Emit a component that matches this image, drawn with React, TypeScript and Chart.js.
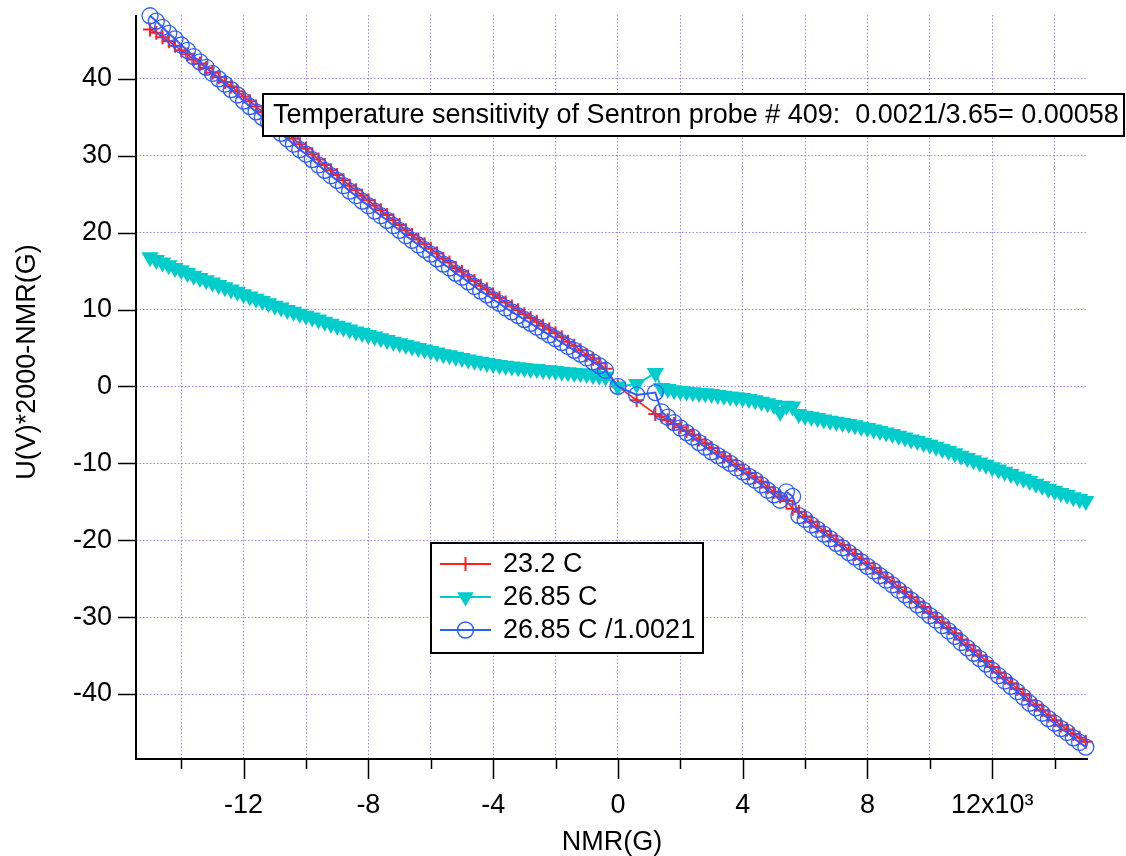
import React, { useEffect, useRef } from 'react';
import { Chart, registerables } from 'chart.js';

Chart.register(...registerables);

// NMR field values (G)
const nmr = [
  -15000, -14800, -14600, -14400, -14200, -14000, -13800, -13600, -13400, -13200,
  -13000, -12800, -12600, -12400, -12200, -12000, -11800, -11600, -11400, -11200,
  -11000, -10800, -10600, -10400, -10200, -10000, -9800, -9600, -9400, -9200,
  -9000, -8800, -8600, -8400, -8200, -8000, -7800, -7600, -7400, -7200,
  -7000, -6800, -6600, -6400, -6200, -6000, -5800, -5600, -5400, -5200,
  -5000, -4800, -4600, -4400, -4200, -4000, -3800, -3600, -3400, -3200,
  -3000, -2800, -2600, -2400, -2200, -2000, -1800, -1600, -1400, -1200,
  -1000, -800, -600, -400,
  0, 600, 1200,
  1400, 1600, 1800, 2000, 2200, 2400, 2600, 2800, 3000, 3200,
  3400, 3600, 3800, 4000, 4200, 4400, 4600, 4800, 5000, 5200,
  5400, 5600, 5800, 6000, 6200, 6400, 6600, 6800, 7000, 7200,
  7400, 7600, 7800, 8000, 8200, 8400, 8600, 8800, 9000, 9200,
  9400, 9600, 9800, 10000, 10200, 10400, 10600, 10800, 11000, 11200,
  11400, 11600, 11800, 12000, 12200, 12400, 12600, 12800, 13000, 13200,
  13400, 13600, 13800, 14000, 14200, 14400, 14600, 14800, 15000,
];

// 23.2 C
const t232 = [
  46.4, 46.0, 45.4, 44.9, 44.3, 43.7, 43.2, 42.5, 42.0, 41.4,
  40.8, 40.2, 39.6, 39.0, 38.4, 37.7, 37.1, 36.4, 35.7, 35.0,
  34.3, 33.6, 32.9, 32.2, 31.5, 30.9, 30.2, 29.5, 28.8, 28.1,
  27.5, 26.8, 26.1, 25.5, 24.8, 24.2, 23.5, 22.9, 22.3, 21.6,
  21.0, 20.3, 19.7, 19.1, 18.5, 17.9, 17.3, 16.6, 16.1, 15.4,
  14.9, 14.3, 13.7, 13.1, 12.6, 12.0, 11.5, 10.9, 10.4, 9.9,
  9.4, 8.9, 8.4, 7.9, 7.4, 6.9, 6.4, 5.8, 5.3, 4.7,
  4.1, 3.6, 3.0, 2.3,
  0, -1.8, -3.6,
  -3.9, -4.4, -4.9, -5.3, -5.8, -6.3, -6.9, -7.4, -8.0, -8.6,
  -9.1, -9.6, -10.2, -10.7, -11.3, -11.8, -12.4, -13.1, -13.7, -14.3,
  -14.9, -15.9, -16.3, -16.9, -17.6, -18.2, -18.8, -19.4, -20.0, -20.6,
  -21.2, -21.8, -22.4, -23.0, -23.6, -24.2, -24.8, -25.4, -26.1, -26.7,
  -27.4, -28.0, -28.7, -29.4, -30.0, -30.7, -31.4, -32.1, -32.9, -33.6,
  -34.3, -35.0, -35.7, -36.5, -37.2, -37.9, -38.6, -39.3, -40.0, -40.8,
  -41.4, -42.1, -42.8, -43.4, -44.1, -44.6, -45.2, -45.7, -46.2,
];

// 26.85 C
const t2685 = [
  16.8, 16.45, 16.1, 15.75, 15.4, 15.1, 14.75, 14.4, 14.1, 13.8,
  13.5, 13.2, 12.9, 12.6, 12.3, 12.0, 11.7, 11.4, 11.1, 10.8,
  10.5, 10.25, 9.95, 9.7, 9.45, 9.2, 8.95, 8.7, 8.4, 8.15,
  7.9, 7.65, 7.4, 7.15, 6.95, 6.7, 6.5, 6.25, 6.05, 5.8,
  5.6, 5.4, 5.2, 5.0, 4.8, 4.6, 4.4, 4.2, 4.05, 3.85,
  3.7, 3.5, 3.35, 3.2, 3.05, 2.9, 2.8, 2.7, 2.6, 2.5,
  2.4, 2.3, 2.25, 2.15, 2.1, 2.0, 1.9, 1.85, 1.75, 1.7,
  1.6, 1.5, 1.4, 1.25,
  0.0, 0.3, 1.75,
  -0.2, -0.35, -0.5, -0.6, -0.7, -0.75, -0.85, -0.9, -1.0, -1.1,
  -1.2, -1.3, -1.4, -1.5, -1.65, -1.8, -2.0, -2.2, -2.4, -3.3,
  -2.5, -2.6, -3.6, -3.8, -3.95, -4.1, -4.3, -4.45, -4.6, -4.75,
  -4.9, -5.05, -5.25, -5.4, -5.6, -5.8, -6.0, -6.2, -6.4, -6.65,
  -6.9, -7.1, -7.35, -7.6, -7.85, -8.15, -8.4, -8.7, -9.0, -9.3,
  -9.6, -9.9, -10.2, -10.5, -10.8, -11.1, -11.4, -11.7, -12.0, -12.3,
  -12.65, -12.95, -13.3, -13.6, -13.85, -14.1, -14.4, -14.65, -14.9,
];

// 26.85 C /1.0021
const t2685c = [
  48.2, 47.5, 46.7, 45.9, 45.2, 44.4, 43.7, 42.9, 42.2, 41.5,
  40.7, 40.0, 39.3, 38.6, 37.9, 37.1, 36.4, 35.7, 35.0, 34.3,
  33.6, 32.9, 32.2, 31.5, 30.8, 30.2, 29.5, 28.8, 28.1, 27.4,
  26.8, 26.1, 25.4, 24.8, 24.1, 23.5, 22.8, 22.2, 21.6, 20.9,
  20.3, 19.6, 19.0, 18.4, 17.8, 17.2, 16.6, 15.9, 15.4, 14.7,
  14.2, 13.6, 13.0, 12.4, 11.9, 11.3, 10.8, 10.2, 9.7, 9.2,
  8.7, 8.2, 7.7, 7.2, 6.7, 6.2, 5.7, 5.2, 4.7, 4.2,
  3.7, 3.2, 2.7, 2.1,
  0, -1.1, -0.8,
  -3.3, -4.0, -4.7, -5.4, -6.0, -6.6, -7.3, -7.9, -8.5, -9.0,
  -9.5, -10.0, -10.6, -11.1, -11.7, -12.2, -12.8, -13.5, -14.1, -14.8,
  -13.7, -14.3, -16.8, -17.3, -18.0, -18.6, -19.2, -19.8, -20.4, -21.0,
  -21.6, -22.2, -22.8, -23.4, -24.0, -24.6, -25.2, -25.8, -26.5, -27.1,
  -27.8, -28.4, -29.1, -29.8, -30.4, -31.1, -31.8, -32.5, -33.3, -34.0,
  -34.7, -35.4, -36.1, -36.9, -37.6, -38.3, -39.0, -39.7, -40.4, -41.2,
  -41.8, -42.5, -43.2, -43.8, -44.5, -45.0, -45.7, -46.3, -46.9,
];

const seriesNames = ['23.2 C', '26.85 C', '26.85 C /1.0021'];
const seriesColors = ['#ff2020', '#00cccc', '#2d5cff'];

const xTickValues = [-14000, -12000, -10000, -8000, -6000, -4000, -2000, 0, 2000, 4000, 6000, 8000, 10000, 12000, 14000];
const xTickLabels = ['', '-12', '', '-8', '', '-4', '', '0', '', '4', '', '8', '', '12x10\u00B3', ''];
const yTickValues = [-40, -30, -20, -10, 0, 10, 20, 30, 40];
const yTickLabels = ['-40', '-30', '-20', '-10', '0', '10', '20', '30', '40'];

const xTitle = 'NMR(G)';
const yTitle = 'U(V)*2000-NMR(G)';
const noteText = 'Temperature sensitivity of Sentron probe # 409:  0.0021/3.65= 0.00058';

const FONT_FAMILY = '"Liberation Sans", Arial, Helvetica, sans-serif';
const GRID_COLOR = 'rgba(110,110,255,0.8)';

function drawMarker(ctx: CanvasRenderingContext2D, kind: number, x: number, y: number) {
  ctx.save();
  ctx.strokeStyle = seriesColors[kind];
  ctx.fillStyle = seriesColors[kind];
  if (kind === 0) {
    ctx.lineWidth = 2;
    ctx.beginPath();
    ctx.moveTo(x - 7, y); ctx.lineTo(x + 7, y);
    ctx.moveTo(x, y - 7); ctx.lineTo(x, y + 7);
    ctx.stroke();
  } else if (kind === 1) {
    const r = 9.5;
    ctx.beginPath();
    ctx.moveTo(x - r * 0.866, y - r * 0.5);
    ctx.lineTo(x + r * 0.866, y - r * 0.5);
    ctx.lineTo(x, y + r);
    ctx.closePath();
    ctx.fill();
  } else {
    ctx.lineWidth = 1.5;
    ctx.beginPath();
    ctx.arc(x, y, 8, 0, Math.PI * 2);
    ctx.stroke();
  }
  ctx.restore();
}

const decorPlugin = {
  id: 'decor',
  afterDraw(chart: any) {
    const { ctx, chartArea: a, scales } = chart;
    const xs = scales.x;
    const ys = scales.y;
    ctx.save();
    // axis lines
    ctx.strokeStyle = '#000';
    ctx.lineWidth = 2;
    ctx.beginPath();
    ctx.moveTo(a.left, a.top);
    ctx.lineTo(a.left, a.bottom);
    ctx.lineTo(a.right, a.bottom);
    ctx.stroke();
    // ticks
    ctx.lineWidth = 1.5;
    ctx.beginPath();
    xTickValues.forEach((v) => {
      const px = Math.round(xs.getPixelForValue(v)) + 0.5;
      const len = v % 4000 === 0 ? 20 : 10;
      ctx.moveTo(px, a.bottom);
      ctx.lineTo(px, a.bottom + len);
    });
    yTickValues.forEach((v) => {
      const py = Math.round(ys.getPixelForValue(v)) + 0.5;
      ctx.moveTo(a.left - 18, py);
      ctx.lineTo(a.left, py);
    });
    ctx.stroke();

    // y axis title
    ctx.save();
    ctx.translate(28, 362);
    ctx.rotate(-Math.PI / 2);
    ctx.font = `27px ${FONT_FAMILY}`;
    ctx.textAlign = 'center';
    ctx.textBaseline = 'middle';
    ctx.fillStyle = '#000';
    ctx.fillText(yTitle, 0, 0);
    ctx.restore();

    // annotation box
    ctx.font = `27px ${FONT_FAMILY}`;
    ctx.textBaseline = 'middle';
    ctx.textAlign = 'left';
    const bx = 263, by = 94, bw = 861, bh = 42;
    ctx.fillStyle = '#fff';
    ctx.fillRect(bx, by, bw, bh);
    ctx.strokeStyle = '#000';
    ctx.lineWidth = 2;
    ctx.strokeRect(bx, by, bw, bh);
    ctx.fillStyle = '#000';
    ctx.fillText(noteText, bx + 10, by + bh / 2 + 1);

    // legend
    const lx = 431, ly = 543, lw = 272, lh = 110;
    ctx.fillStyle = '#fff';
    ctx.fillRect(lx, ly, lw, lh);
    ctx.strokeRect(lx, ly, lw, lh);
    const rows = [564, 597, 630];
    rows.forEach((ry, i) => {
      ctx.strokeStyle = seriesColors[i];
      ctx.lineWidth = 2;
      ctx.beginPath();
      ctx.moveTo(440, ry);
      ctx.lineTo(491, ry);
      ctx.stroke();
      drawMarker(ctx, i, 465.5, ry);
      ctx.fillStyle = '#000';
      ctx.fillText(seriesNames[i], 503, ry + 1);
    });
    ctx.restore();
  },
};

export default function App() {
  const ref = useRef<HTMLCanvasElement | null>(null);

  useEffect(() => {
    document.body.style.margin = '0';
    const canvas = ref.current;
    if (!canvas) return;
    const mk = (arr: number[]) => nmr.map((x, i) => ({ x, y: arr[i] }));
    const chart = new Chart(canvas, {
      type: 'scatter',
      data: {
        datasets: [
          {
            label: seriesNames[2],
            data: mk(t2685c),
            showLine: true,
            borderColor: seriesColors[2],
            borderWidth: 2,
            pointStyle: 'circle',
            pointRadius: 8,
            pointBorderWidth: 1.3,
            pointBorderColor: seriesColors[2],
            pointBackgroundColor: 'rgba(0,0,0,0)',
            clip: false,
            order: 1,
          },
          {
            label: seriesNames[1],
            data: mk(t2685),
            showLine: true,
            borderColor: seriesColors[1],
            borderWidth: 2,
            pointStyle: 'triangle',
            pointRotation: 180,
            pointRadius: 10,
            pointBorderWidth: 0,
            pointBorderColor: seriesColors[1],
            pointBackgroundColor: seriesColors[1],
            clip: false,
            order: 2,
          },
          {
            label: seriesNames[0],
            data: mk(t232),
            showLine: true,
            borderColor: seriesColors[0],
            borderWidth: 1.6,
            pointStyle: 'cross',
            pointRadius: 7,
            pointBorderWidth: 2,
            pointBorderColor: seriesColors[0],
            pointBackgroundColor: seriesColors[0],
            clip: false,
            order: 3,
          },
        ],
      },
      options: {
        animation: false,
        responsive: false,
        devicePixelRatio: 1,
        layout: { padding: { top: 15, right: 38, left: 0, bottom: 0 } },
        plugins: {
          legend: { display: false },
          tooltip: { enabled: false },
        },
        scales: {
          x: {
            type: 'linear',
            min: -15450,
            max: 15070,
            afterBuildTicks: (s: any) => {
              s.ticks = xTickValues.map((v) => ({ value: v }));
            },
            afterFit: (s: any) => {
              s.height = 97;
              s.paddingLeft = 0;
              s.paddingRight = 0;
            },
            ticks: {
              autoSkip: false,
              maxRotation: 0,
              padding: 30,
              color: '#000',
              font: { family: FONT_FAMILY, size: 27 },
              callback: (v: any) => {
                const i = xTickValues.indexOf(Number(v));
                return i >= 0 ? xTickLabels[i] : '';
              },
            },
            grid: { color: GRID_COLOR, lineWidth: 1, drawTicks: false },
            border: { display: false, dash: [1.5, 2] },
            title: {
              display: true,
              text: xTitle,
              color: '#000',
              font: { family: FONT_FAMILY, size: 27, lineHeight: 1 },
              padding: { top: 0, bottom: 0 },
            },
          },
          y: {
            type: 'linear',
            min: -48.45,
            max: 48.3,
            afterBuildTicks: (s: any) => {
              s.ticks = yTickValues.map((v) => ({ value: v }));
            },
            afterFit: (s: any) => {
              s.width = 136;
              s.paddingTop = 0;
              s.paddingBottom = 0;
            },
            ticks: {
              autoSkip: false,
              padding: 24,
              color: '#000',
              font: { family: FONT_FAMILY, size: 27 },
              callback: (v: any) => {
                const i = yTickValues.indexOf(Number(v));
                return i >= 0 ? yTickLabels[i] : '';
              },
            },
            grid: { color: GRID_COLOR, lineWidth: 1, drawTicks: false },
            border: { display: false, dash: [1.5, 2] },
            title: { display: false },
          },
        },
      },
      plugins: [decorPlugin],
    } as any);
    return () => chart.destroy();
  }, []);

  return (
    <div style={{ width: 1126, height: 856, position: 'relative', background: '#fff' }}>
      <canvas ref={ref} width={1126} height={856} style={{ display: 'block' }} />
    </div>
  );
}
